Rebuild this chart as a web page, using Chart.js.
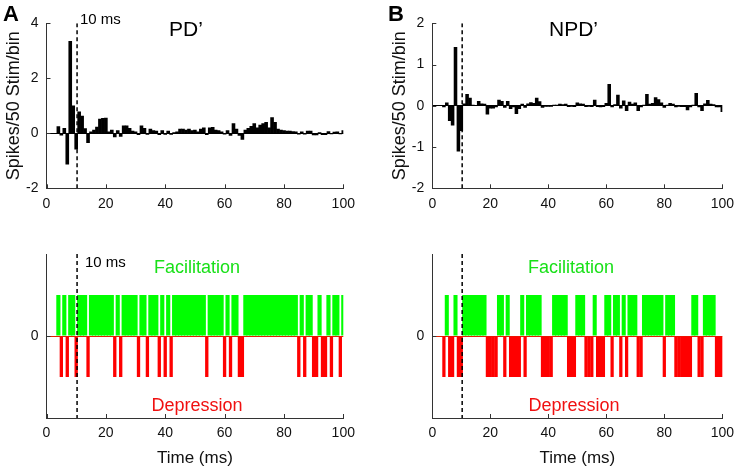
<!DOCTYPE html>
<html><head><meta charset="utf-8">
<script src="https://cdn.jsdelivr.net/npm/chart.js@4"></script>
<style>
html,body{margin:0;padding:0;background:#fff}
body{width:741px;height:470px;overflow:hidden;position:relative;font-family:"Liberation Sans",Arial,sans-serif}
canvas{position:absolute;left:0;top:0}
.t{position:absolute;white-space:nowrap;line-height:1}
</style></head><body>
<canvas id="cTL" width="741" height="470"></canvas>
<canvas id="cTR" width="741" height="470"></canvas>
<canvas id="cBL" width="741" height="470"></canvas>
<canvas id="cBR" width="741" height="470"></canvas>
<div class="t" style="left:3px;top:3px;font-size:22px;font-weight:bold">A</div>
<div class="t" style="left:388px;top:3px;font-size:22px;font-weight:bold">B</div>
<div class="t" style="left:169px;top:18px;font-size:21px">PD’</div>
<div class="t" style="left:549px;top:18px;font-size:21px">NPD’</div>
<div class="t" style="left:80px;top:11px;font-size:15px">10 ms</div>
<div class="t" style="left:85px;top:254px;font-size:15px">10 ms</div>
<div class="t" style="left:197px;top:258px;font-size:18px;color:#18e018;transform:translateX(-50%)">Facilitation</div>
<div class="t" style="left:197px;top:396px;font-size:18px;color:#f01010;transform:translateX(-50%)">Depression</div>
<div class="t" style="left:571px;top:258px;font-size:18px;color:#18e018;transform:translateX(-50%)">Facilitation</div>
<div class="t" style="left:574px;top:396px;font-size:18px;color:#f01010;transform:translateX(-50%)">Depression</div>
<script>
// ---- data ----
const timeBins = [4,5,6,7,8,9,10,11,12,13,14,15,16,17,18,19,20,21,22,23,24,25,26,27,28,29,30,31,32,33,34,35,36,37,38,39,40,41,42,43,44,45,46,47,48,49,50,51,52,53,54,55,56,57,58,59,60,61,62,63,64,65,66,67,68,69,70,71,72,73,74,75,76,77,78,79,80,81,82,83,84,85,86,87,88,89,90,91,92,93,94,95,96,97,98,99,100];
const pdValues = [0.24,-0.07,0.18,-1.12,3.34,1.0,-0.58,0.78,0.63,0.17,-0.34,0.05,0.12,0.23,0.52,0.54,0.55,0.05,0.12,-0.13,0.1,-0.11,0.27,0.27,0.18,0.08,0.05,-0.05,0.27,0.18,-0.04,0.15,0.1,0.08,-0.05,0.1,-0.04,0.08,-0.04,0.03,0.05,0.15,0.15,0.12,0.15,0.1,0.12,0.05,0.15,0.2,-0.05,0.2,0.22,0.12,0.1,0.05,-0.03,0.1,-0.08,0.35,0.15,-0.08,-0.22,0.12,0.18,0.25,0.35,0.2,0.3,0.35,0.4,0.2,0.57,0.4,0.15,0.12,0.1,0.08,0.08,0.06,0.05,-0.03,0.05,-0.03,0.08,0.08,-0.06,-0.06,0.03,-0.05,-0.05,0.06,-0.02,0.04,0.05,-0.02,0.1];
const npdValues = [
  -0.03,0.07,-0.36,-0.47,1.42,-1.1,-0.6,                 // 4-10
  0.05,0.28,0.19,0.02,0.01,0.11,0.05,0.04,-0.2,-0.06,     // 11-20
  -0.06,-0.03,0.14,0.11,-0.04,0.11,-0.07,-0.03,-0.19,-0.07, // 21-30
  0.04,-0.04,0.05,0.08,0.06,0.19,0.1,-0.04,-0.01,-0.01,   // 31-40
  -0.01,0.02,0.02,0.04,0.03,0.04,-0.02,-0.01,-0.02,0.07,  // 41-50
  0.05,0.04,-0.02,-0.01,-0.02,0.14,-0.02,-0.03,-0.02,0.06, // 51-60
  0.52,-0.03,0.03,0.26,-0.06,0.12,-0.12,0.09,0.04,0.07,   // 61-70
  -0.12,-0.03,0.02,0.28,0.04,0.06,0.2,0.15,0.07,-0.04,    // 71-80
  0.02,0.06,0.04,-0.03,-0.01,-0.02,-0.02,-0.1,-0.03,0.02, // 81-90
  0.3,-0.03,-0.12,0.05,0.13,0.04,0.03,-0.03,-0.03,-0.14   // 91-100
];
const xTicks = [0,20,40,60,80,100];
const pdYTicks = [-2,0,2,4];
const npdYTicks = [-2,-1,0,1,2];
const rasterYTicks = [0];
const stimMarkMs = 10.3;   // dashed "10 ms" marker
const rasterLevel = 0.5;   // height of facilitation / depression marks

// ---- helpers ----
const FONT = '"Liberation Sans", Arial, sans-serif';
const AX = '#333';

const inwardTicks = {
  id: 'inwardTicks',
  afterDraw(chart, args, opts) {
    const {ctx, chartArea: a, scales: {x, y}} = chart;
    ctx.save();
    ctx.strokeStyle = AX; ctx.lineWidth = 1;
    (opts.xv || []).forEach(v => {
      const px = Math.round(x.getPixelForValue(v)) + 0.5;
      ctx.beginPath(); ctx.moveTo(px, a.bottom); ctx.lineTo(px, a.bottom - 4); ctx.stroke();
    });
    (opts.yv || []).forEach(v => {
      const py = Math.round(y.getPixelForValue(v)) + 0.5;
      ctx.beginPath(); ctx.moveTo(a.left, py); ctx.lineTo(a.left + 4, py); ctx.stroke();
    });
    ctx.restore();
  }
};

function panel(id, box, datasets, yCfg) {
  const W = 741, H = 470;
  new Chart(document.getElementById(id), {
    type: 'bar',
    data: { datasets },
    options: {
      responsive: false, animation: false, devicePixelRatio: 1,
      layout: { padding: { left: box.cl, top: box.top, right: W - box.right, bottom: 0 } },
      plugins: { legend: { display: false }, tooltip: { enabled: false },
        inwardTicks: { xv: xTicks, yv: yCfg.ticks } },
      scales: {
        x: {
          type: 'linear', min: 0, max: 100, offset: false,
          afterBuildTicks: s => { s.ticks = xTicks.map(v => ({ value: v })); },
          grid: { display: false, drawTicks: false },
          border: { display: true, color: AX, width: 1 },
          ticks: { padding: 7, color: '#111', font: { family: FONT, size: 14 }, maxRotation: 0, autoSkip: false },
          title: yCfg.xTitle ? { display: true, text: yCfg.xTitle, color: '#111', font: { family: FONT, size: 17 }, padding: { top: 0, bottom: 1 } } : { display: false },
          afterFit: s => { s.height = H - box.bottom; }
        },
        y: {
          type: 'linear', min: yCfg.min, max: yCfg.max,
          afterBuildTicks: s => { s.ticks = yCfg.ticks.map(v => ({ value: v })); },
          grid: { drawTicks: false, lineWidth: 1,
            color: c => (c.tick && c.tick.value === 0) ? yCfg.zeroColor : 'rgba(0,0,0,0)' },
          border: { display: true, color: AX, width: 1 },
          ticks: { padding: 8, color: '#111', font: { family: FONT, size: 14 } },
          title: yCfg.yTitle ? { display: true, text: yCfg.yTitle, color: '#111', font: { family: FONT, size: 18 }, padding: { top: yCfg.titlePad, bottom: 0 } } : { display: false },
          afterFit: s => { s.width = box.left - box.cl; }
        }
      }
    },
    plugins: [inwardTicks]
  });
}

function histSets(values, yMin, yMax) {
  return [
    { type: 'bar', data: timeBins.map((t, i) => ({ x: t, y: values[i] })),
      backgroundColor: '#000', borderWidth: 0, barPercentage: 1, categoryPercentage: 1, grouped: false },
    { type: 'line', data: [{ x: stimMarkMs, y: yMax }, { x: stimMarkMs, y: yMin }],
      borderColor: '#000', borderWidth: 1.5, borderDash: [4, 3], pointRadius: 0, order: -1 }
  ];
}
function rasterSets(values) {
  const fac = [], dep = [];
  timeBins.forEach((t, i) => {
    if (values[i] > 0) fac.push({ x: t, y: rasterLevel });
    else if (values[i] < 0) dep.push({ x: t, y: -rasterLevel });
  });
  return [
    { type: 'bar', data: fac, backgroundColor: '#00ff00', borderWidth: 0, barPercentage: 1.4, categoryPercentage: 1, grouped: false },
    { type: 'bar', data: dep, backgroundColor: '#ff0000', borderWidth: 0, barPercentage: 1.12, categoryPercentage: 1, grouped: false },
    { type: 'line', data: [{ x: stimMarkMs, y: 1 }, { x: stimMarkMs, y: -1 }],
      borderColor: '#000', borderWidth: 1.5, borderDash: [4, 3], pointRadius: 0, order: -1 }
  ];
}

const tl = { cl: 0, left: 46.5, right: 343.3, top: 23.3, bottom: 188.3 };
const tr = { cl: 385, left: 432.3, right: 730, top: 23.3, bottom: 188.3 };
const bl = { cl: 0, left: 46.5, right: 343.3, top: 254, bottom: 418 };
const br = { cl: 385, left: 432.3, right: 730, top: 254, bottom: 418 };

panel('cTL', tl, histSets(pdValues, -2, 4), { min: -2, max: 4, ticks: pdYTicks, zeroColor: '#000', yTitle: 'Spikes/50 Stim/bin', titlePad: 3 });
panel('cTR', tr, histSets(npdValues, -2, 2), { min: -2, max: 2, ticks: npdYTicks, zeroColor: '#000', yTitle: 'Spikes/50 Stim/bin', titlePad: 4 });
panel('cBL', bl, rasterSets(pdValues), { min: -1, max: 1, ticks: rasterYTicks, zeroColor: '#e02000', xTitle: 'Time (ms)' });
panel('cBR', br, rasterSets(npdValues), { min: -1, max: 1, ticks: rasterYTicks, zeroColor: '#e02000', xTitle: 'Time (ms)' });
</script>
</body></html>
